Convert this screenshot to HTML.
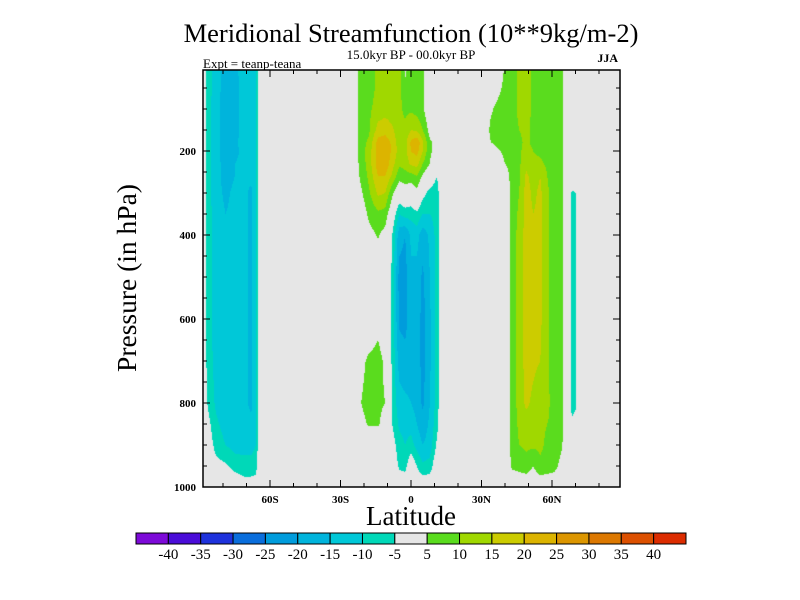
<!DOCTYPE html>
<html><head><meta charset="utf-8"><style>
body{margin:0;background:#fff;}
#wrap{position:relative;width:800px;height:600px;overflow:hidden;font-family:"Liberation Serif",serif;}
canvas{position:absolute;left:0;top:0;}
svg{position:absolute;left:0;top:0;}
</style></head><body>
<div id="wrap">
<canvas id="cv" width="800" height="600"></canvas>
<svg id="sv" width="800" height="600">
<text x="411" y="42" text-anchor="middle" font-size="26.5">Meridional Streamfunction (10**9kg/m-2)</text>
<text x="411" y="59" text-anchor="middle" font-size="13">15.0kyr BP - 00.0kyr BP</text>
<text x="203" y="68" font-size="13">Expt = teanp-teana</text>
<text x="618" y="62" text-anchor="end" font-size="12" font-weight="bold">JJA</text>
<text x="411" y="525" text-anchor="middle" font-size="27">Latitude</text>
<text transform="translate(136,278) rotate(-90)" text-anchor="middle" font-size="27.5">Pressure (in hPa)</text>
<g id="axes"></g>
<g id="cbar"></g>
</svg>
</div>
<script>
// ---- data ----
const pressures=[7,50,100,150,180,200,230,260,300,350,400,500,600,700,800,850,900,950,1000];
const lats=[-88.5,-86.5,-83,-79,-75,-71,-68,-66,-64.5,-24,-22,-18,-14,-11,-8,-5,-2.5,0,2.5,5,8,11,13,31.5,34,37,40,43,46,49,52,55,58,61,64,66.5,68.5,70,72,88.5];
const Z=[
[0,0,0,0,0,0,0,0,0,0,0,0,0,0,0,0,0,0,0],
[-8,-8,-8,-8,-8,-8,-8,-8,-8,-8,-8,-8,-8,-7,-5.5,-3,-1,0,0],
[-12,-12,-13,-13,-13,-13,-13,-13,-13,-12,-12,-12,-12,-12,-11,-9,-7,-3,0],
[-17,-18,-18,-18,-18,-18,-17,-17,-16,-15,-14,-13,-13,-13,-13,-12,-10,-4,0],
[-16,-17,-17,-17,-16,-16,-15,-15,-14,-14,-13,-13,-13,-13,-13,-13,-12,-7,0],
[-13,-13,-13,-13,-13,-14,-14,-14,-14,-14,-14,-14,-14,-14,-14,-13,-12,-8,-2],
[-12,-12,-12,-12,-12,-13,-14,-14,-16,-16,-16,-16,-16,-16,-16,-14,-12,-8,-2],
[-10,-10,-10,-11,-11,-11,-11,-11,-12,-12,-12,-12,-12,-12,-12,-11,-10,-7,-2],
[0,0,0,0,0,0,0,0,0,0,0,0,0,0,0,0,0,0,0],
[0,0,0,0,0,0,0,0,0,0,0,0,0,0,0,0,0,0,0],
[7,7,7,7,7,7,6,5,3,0,0,0,0,3,4.5,3,0,0,0],
[8,8,9,9,11,12,12,11,9,6,3,0,0,6,7,5.5,0,0,0],
[11,11,12,17,22,23,23,20,16,9,5.5,0,3,7,6,5.5,1,0,0],
[12,12,13,18,23,24,24,20,15,8,3,0,0,4,5,3,0,0,0],
[12,12,12,16,19,19,17,14,6,0,-5,-6,-6,-6,-6,-5,-2,0,0],
[12,12,11,11,12,13,11,7,0,-10,-18,-22,-21,-17,-13,-11,-8,-6,0],
[4,6,9,11,13,13,12,8,2,-8,-20,-22,-22,-18,-14,-12,-10,-7,0],
[8,8,9,15,21,20,16,8,0,-8,-14,-16,-17,-17,-15,-12,-8,0,0],
[7,7,8,14,24,22,17,10,3,-6,-13,-17,-17,-17,-17,-15,-12,-5,0],
[6,6,6,10,16,15,10,4,-3,-10,-18,-21,-22,-22,-21,-18,-15,-9,0],
[0,0,0,3,6,6,5,0,-7,-10,-14,-15,-16,-16,-15,-14,-13,-8,0],
[0,0,0,0,3,3,0,-5,-8,-8,-8,-8,-8,-8,-8,-7,-4,0,0],
[0,0,0,0,0,0,0,0,0,0,0,0,0,0,0,0,0,0,0],
[0,0,0,0,0,0,0,0,0,0,0,0,0,0,0,0,0,0,0],
[0,0,4,7,5,0,0,0,0,0,0,0,0,0,0,0,0,0,0],
[0,3,7,8,7,4,0,0,0,0,0,0,0,0,0,0,0,0,0],
[6,7,8,8,8,7,5,2,0,0,0,0,0,0,0,0,0,0,0],
[7,7,8,8,8,8,7,7,7,7,7,7,7,7,7,7,7,6,0],
[11,11,11,10,9,9,9,9,10,11,12,12,12,12,12,11,10,7,0],
[12,12,12,11,11,12,14,16,17,17,17,17,17,17,16,13,11,8,0],
[9,9,9,9,9,10,11,13,14,15,16,16,16,16,14,12,11,5,0],
[9,8,8,8,8,9,11,15,16,16,16,16,16,15,12,11,11,9,0],
[8,8,8,8,8,8,9,10,11,11,11,11,11,11,11,10,9,8,0],
[8,8,8,8,7,7,7,7,7,7,7,7,7,7,8,9,9,7,0],
[7,7,7,7,7,7,7,7,7,7,7,7,7,7,7,7,6,3,0],
[0,0,0,0,0,0,0,0,0,0,0,0,0,0,0,0,0,0,0],
[0,0,0,0,0,0,0,0,-6,-7,-7,-7,-7,-7,-7,-4,0,0,0],
[0,0,0,0,0,0,0,0,-5,-6,-6,-6,-6,-6,-6,-3,0,0,0],
[0,0,0,0,0,0,0,0,0,0,0,0,0,0,0,0,0,0,0],
[0,0,0,0,0,0,0,0,0,0,0,0,0,0,0,0,0,0,0]
];
const colors=["#7d0ad8","#4a0cd8","#1e32dc","#0a6edc","#009cdc","#00b4dc","#00c8d8","#00d8b8","#e6e6e6","#5adc1e","#a0d800","#cccc00","#dcb400","#dc9600","#dc7800","#dc5000","#dc2c00"];
const cbarLabels=["-40","-35","-30","-25","-20","-15","-10","-5","5","10","15","20","25","30","35","40"];
const yTicks=[200,400,600,800,1000];
const xTicks=[-60,-30,0,30,60];
const xTickLabels=["60S","30S","0","30N","60N"];

// ---- axes ----
const PL=203,PR=620,PT=70,PB=487;
const xs=lat=>411+lat*2.35;
const ys=p=>67+p*0.42;
function lvl(v){
  if(v<=-5) return Math.max(0,Math.min(7,Math.floor((v+45)/5)));
  if(v<5) return 8;
  return Math.min(16,9+Math.floor((v-5)/5));
}
function interp(arr,v){
  let i=0; while(i<arr.length-2 && v>arr[i+1]) i++;
  let t=(v-arr[i])/(arr[i+1]-arr[i]); t=Math.max(0,Math.min(1,t));
  return [i,t];
}
const ctx=document.getElementById('cv').getContext('2d');
ctx.fillStyle='#e6e6e6'; ctx.fillRect(PL,PT,PR-PL,PB-PT);
for(let py=PT;py<PB;py++){
  const p=(py+0.5-67)/0.42;
  const [j,u]=interp(pressures,p);
  for(let px=PL;px<PR;px++){
    const lat=(px+0.5-411)/2.35;
    const [i,t]=interp(lats,lat);
    const v=(1-t)*((1-u)*Z[i][j]+u*Z[i][j+1])+t*((1-u)*Z[i+1][j]+u*Z[i+1][j+1]);
    const k=lvl(v);
    if(k!==8){ctx.fillStyle=colors[k];ctx.fillRect(px,py,1,1);}
  }
}
const NS='http://www.w3.org/2000/svg';
function mk(tag,attrs,parent){const e=document.createElementNS(NS,tag);for(const k in attrs)e.setAttribute(k,attrs[k]);parent.appendChild(e);return e;}
const ax=document.getElementById('axes');
const frame=mk('rect',{x:PL,y:PT,width:PR-PL,height:PB-PT,fill:'none',stroke:'#000','stroke-width':1.5},ax);


for(let p=50;p<=1000;p+=50){
  const y=ys(p), L=(p%200===0)?7:4;
  const t1=mk('line',{x1:PL,x2:PL+L,y1:y,y2:y,stroke:'#000','stroke-width':1},ax);
  
  
  const t2=mk('line',{x1:PR,x2:PR-L,y1:y,y2:y,stroke:'#000','stroke-width':1},ax);
  
  
}
yTicks.forEach(p=>{
  const t=mk('text',{x:PL-7,y:ys(p)+4,'text-anchor':'end','font-size':11,'font-weight':'bold'},ax);
  t.textContent=p;
  
  
});
for(let lat=-80;lat<=80;lat+=10){
  const x=xs(lat), L=(lat%30===0)?7:4;
  const t1=mk('line',{x1:x,x2:x,y1:PB,y2:PB-L,stroke:'#000','stroke-width':1},ax);
  
  
  const t2=mk('line',{x1:x,x2:x,y1:PT,y2:PT+L,stroke:'#000','stroke-width':1},ax);
  
  
}
xTicks.forEach((lat,i)=>{
  const t=mk('text',{x:xs(lat),y:503,'text-anchor':'middle','font-size':11,'font-weight':'bold'},ax);
  t.textContent=xTickLabels[i];
  
  
});
// ---- colorbar ----
const cb=document.getElementById('cbar');
const CX=136,CW=550,CY=533,CH=11,bw=CW/colors.length;
colors.forEach((c,i)=>{
  const r=mk('rect',{x:CX+i*bw,y:CY,width:bw,height:CH,fill:c,stroke:'#000','stroke-width':1},cb);
  
  
});
cbarLabels.forEach((s,i)=>{
  const t=mk('text',{x:CX+(i+1)*bw,y:559,'text-anchor':'middle','font-size':15},cb);
  t.textContent=s;
  
  
});
</script>
</body></html>
